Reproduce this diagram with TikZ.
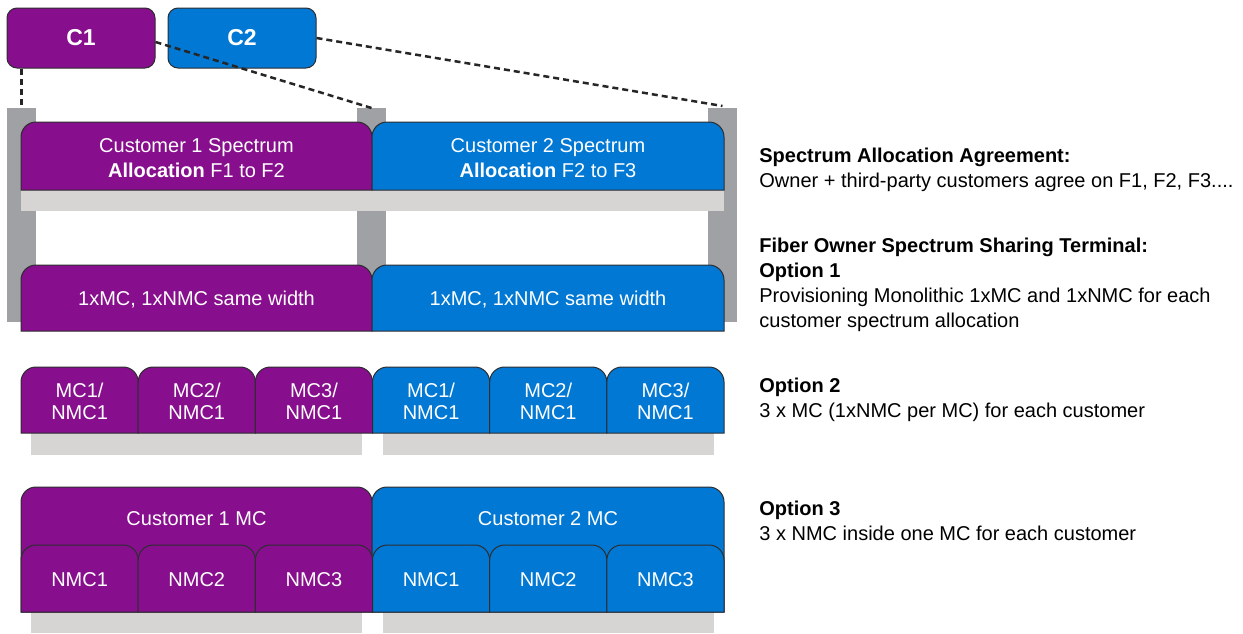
\documentclass[tikz,border=0pt]{standalone}
\usepackage{fontspec}
\setmainfont{Liberation Sans}
\usepackage{xcolor}
\usepackage{tikz}
\usetikzlibrary{calc}

\definecolor{custpurple}{RGB}{135,14,140}
\definecolor{custblue}{RGB}{0,120,212}
\definecolor{pillargray}{RGB}{160,161,164}
\definecolor{bargray}{RGB}{214,213,212}
\definecolor{edgegray}{RGB}{45,45,48}

\tikzset{
  boxline/.style={draw=edgegray,line width=0.5pt},
  boxtext/.style={text=white,align=center,inner sep=0pt,font=\fontsize{10}{11}\selectfont},
  custbox/.style={boxline,rounded corners=5pt,minimum width=74pt,minimum height=30pt,
    text=white,font=\fontsize{11.5}{13}\selectfont\bfseries},
  link/.style={line width=1.25pt,dash pattern=on 3pt off 2pt,draw=black!85},
  note/.style={anchor=west,align=left,inner sep=0pt,font=\fontsize{10}{12.5}\selectfont}
}

% box with rounded top corners, square bottom
\newcommand{\topbox}[5]{%
  \draw[boxline,fill=#5] (#1,#4) -- (#1,#2+15) to[out=90,in=180] (#1+15,#2)
    -- (#3-15,#2) to[out=0,in=90] (#3,#2+15) -- (#3,#4) -- cycle;}

\begin{document}
\begin{tikzpicture}[x=0.5pt,y=-0.5pt]
  \useasboundingbox (0,0) rectangle (1243,633);
  % pillars of the sharing terminal
  \fill[pillargray] (7,108) rectangle (36,322);
  \fill[pillargray] (357,108) rectangle (386,322);
  \fill[pillargray] (708,108) rectangle (737,322);
  \coordinate (lefttop) at (21.5,108);
  \coordinate (midtop) at (371.5,108);
  \coordinate (righttop) at (722.5,106);
  % grey bases
  \fill[bargray] (21,190) rectangle (724,211);
  \fill[bargray] (31,433) rectangle (362,455);
  \fill[bargray] (383,433) rectangle (714,455);
  \fill[bargray] (31,612) rectangle (362,633);
  \fill[bargray] (383,612) rectangle (714,633);
  % spectrum allocation
  \topbox{21}{122}{372}{190}{custpurple}
  \topbox{372}{122}{724}{190}{custblue}
  \node[boxtext] (alloc1) at (196.5,158) {Customer 1 Spectrum\\[1.5pt]\textbf{Allocation} F1 to F2};
  \node[boxtext] (alloc2) at (548,158) {Customer 2 Spectrum\\[1.5pt]\textbf{Allocation} F2 to F3};
  % option 1
  \topbox{21}{265}{372}{331}{custpurple}
  \topbox{372}{265}{724}{331}{custblue}
  \node[boxtext] (opta1) at (196.5,300) {1xMC, 1xNMC same width};
  \node[boxtext] (opta2) at (548,300) {1xMC, 1xNMC same width};
  % option 2
  \foreach \i/\col in {0/custpurple,1/custpurple,2/custpurple,3/custblue,4/custblue,5/custblue} {
    \pgfmathsetmacro\xa{21+117.17*\i}
    \pgfmathsetmacro\xb{21+117.17*(\i+1)}
    \pgfmathtruncatemacro\mcnum{mod(\i,3)+1}
    \topbox{\xa}{367}{\xb}{433}{\col}
    \node[boxtext] (optb\i) at ({(\xa+\xb)/2},401) {MC\mcnum/\\NMC1};
  }
  % option 3
  \topbox{21}{487}{372}{612}{custpurple}
  \topbox{372}{487}{724}{612}{custblue}
  \node[boxtext] (optc1) at (196.5,519) {Customer 1 MC};
  \node[boxtext] (optc2) at (548,519) {Customer 2 MC};
  \foreach \i/\col in {0/custpurple,1/custpurple,2/custpurple,3/custblue,4/custblue,5/custblue} {
    \pgfmathsetmacro\xa{21+117.17*\i}
    \pgfmathsetmacro\xb{21+117.17*(\i+1)}
    \pgfmathtruncatemacro\mcnum{mod(\i,3)+1}
    \topbox{\xa}{545}{\xb}{612}{\col}
    \node[boxtext] (nmc\i) at ({(\xa+\xb)/2},580) {NMC\mcnum};
  }
  % customers
  \node[custbox,fill=custpurple] (c1) at (81,38) {C1};
  \node[custbox,fill=custblue] (c2) at (242,38) {C2};
  \draw[link] (c1.south -| lefttop) -- (lefttop);
  \draw[link] ([yshift=-2pt]c1.east) -- (midtop);
  \draw[link] (c2.east) -- (righttop);
  % notes on the right
  \node[note] (agree) at (759,170) {\textbf{Spectrum Allocation Agreement:}\\Owner + third-party customers agree on F1, F2, F3....};
  \node[note] (opt1) at (759,285) {\textbf{Fiber Owner Spectrum Sharing Terminal:}\\\textbf{Option 1}\\Provisioning Monolithic 1xMC and 1xNMC for each\\customer spectrum allocation};
  \node[note] (opt2) at (759,400) {\textbf{Option 2}\\3 x MC (1xNMC per MC) for each customer};
  \node[note] (opt3) at (759,521) {\textbf{Option 3}\\3 x NMC inside one MC for each customer};
\end{tikzpicture}
\end{document}
